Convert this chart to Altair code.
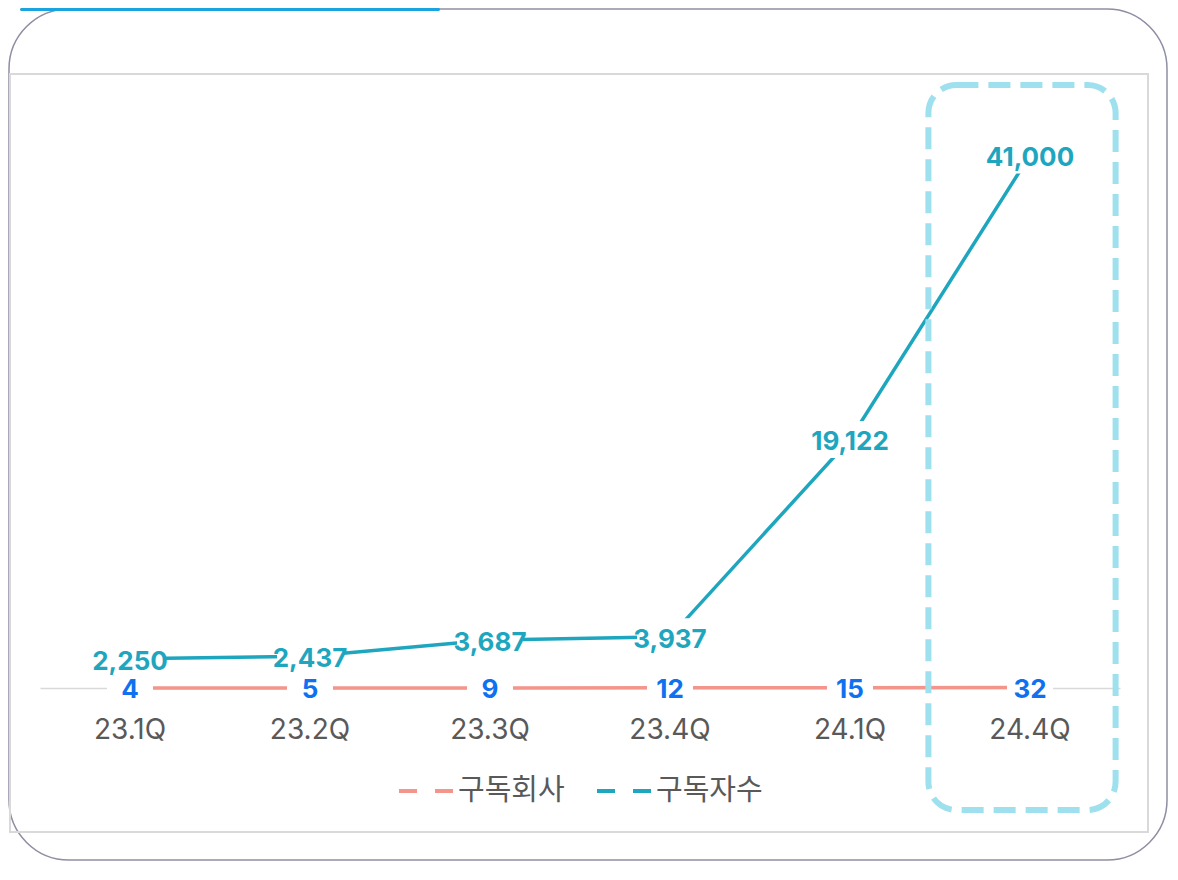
import altair as alt
import pandas as pd

quarters = ["23.1Q", "23.2Q", "23.3Q", "23.4Q", "24.1Q", "24.4Q"]
companies = [4, 5, 9, 12, 15, 32]
subscribers = [2250, 2437, 3687, 3937, 19122, 41000]
series_names = ["구독회사", "구독자수"]
highlight_quarter = ["24.4Q"]

rows = []
for q, c, s in zip(quarters, companies, subscribers):
    rows.append({"q": q, "series": series_names[0], "v": c})
    rows.append({"q": q, "series": series_names[1], "v": s})
df = pd.DataFrame(rows)

SALMON = "#f4958b"
TEAL = "#1fa6bf"
BLUE = "#0f70f0"
HILITE = "#9fe0ee"
GRAY_TXT = "#595959"

W, H = 1080, 585

x_enc = alt.X(
    "q:N",
    sort=quarters,
    scale=alt.Scale(type="band", paddingInner=0, paddingOuter=0),
    axis=alt.Axis(
        title=None, ticks=False, tickSize=0, labelPadding=42,
        labelBaseline="middle", labelFont="Inter", labelFontSize=28,
        labelColor=GRAY_TXT, domainColor="#d9d9d9", domainWidth=1.5,
        labelAngle=0, grid=False,
    ),
)
y_enc = alt.Y("v:Q", scale=alt.Scale(domain=[0, 45000], nice=False, zero=True), axis=None)

one = pd.DataFrame({"k": [0]})

outer = alt.Chart(one).mark_rect(
    cornerRadius=60, fillOpacity=0, stroke="#8e8ea3", strokeWidth=1.5
).encode(x=alt.value(-31), x2=alt.value(1127), y=alt.value(-94), y2=alt.value(H + 172))

topbar = alt.Chart(one).mark_rect(color="#1ba3e0", cornerRadius=2).encode(
    x=alt.value(-20), x2=alt.value(400), y=alt.value(-95), y2=alt.value(-92)
)

inner = alt.Chart(one).mark_rect(
    fillOpacity=0, stroke="#d9d9d9", strokeWidth=2
).encode(x=alt.value(-30), x2=alt.value(1108), y=alt.value(-29), y2=alt.value(729))

base = alt.Chart(df).encode(x=x_enc, y=y_enc)

lines = base.mark_line(strokeWidth=3.5).encode(
    color=alt.Color(
        "series:N",
        sort=series_names,
        scale=alt.Scale(domain=series_names, range=[SALMON, TEAL]),
        legend=alt.Legend(
            title=None, orient="none", legendX=357, legendY=659,
            direction="horizontal", symbolType="stroke", symbolStrokeWidth=4,
            symbolDash=[18, 18], symbolSize=2916, labelFont="Noto Sans CJK KR",
            labelFontSize=29, labelColor=GRAY_TXT, labelOffset=3, columnPadding=24,
        ),
    )
)

teal_bg = base.transform_filter(alt.datum.series == series_names[1]).mark_point(
    shape="M-1,-0.56H1V0.56H-1Z", filled=True, color="white", opacity=1, strokeWidth=0, size=4356
)
blue_bg = base.transform_filter(alt.datum.series == series_names[0]).mark_point(
    shape="M-1,-0.7H1V0.7H-1Z", filled=True, color="white", opacity=1, strokeWidth=0, size=2116
)

teal_txt = base.transform_filter(alt.datum.series == series_names[1]).mark_text(
    font="Inter", fontSize=26, fontWeight="bold", color=TEAL, baseline="middle", dy=3
).encode(text=alt.Text("v:Q", format=","))
blue_txt = base.transform_filter(alt.datum.series == series_names[0]).mark_text(
    font="Inter", fontSize=26, fontWeight="bold", color=BLUE, baseline="middle", dy=2
).encode(text=alt.Text("v:Q", format=","))

hl = alt.Chart(pd.DataFrame({"q": highlight_quarter})).mark_bar(
    width=alt.RelativeBandSize(1.04), xOffset=-8, cornerRadius=28,
    fillOpacity=0, stroke=HILITE, strokeWidth=6, strokeDash=[22, 10],
).encode(x=x_enc, y=alt.value(-18), y2=alt.value(707))

chart = alt.layer(
    outer, topbar, inner, lines, teal_bg, blue_bg, hl, teal_txt, blue_txt
).properties(
    width=W, height=H,
    autosize=alt.AutoSizeParams(type="none"),
    padding={"left": 32, "top": 95, "right": 48, "bottom": 174},
).configure_view(stroke=None)

chart.save("out.html", embed_options={"renderer": "svg", "actions": False})
